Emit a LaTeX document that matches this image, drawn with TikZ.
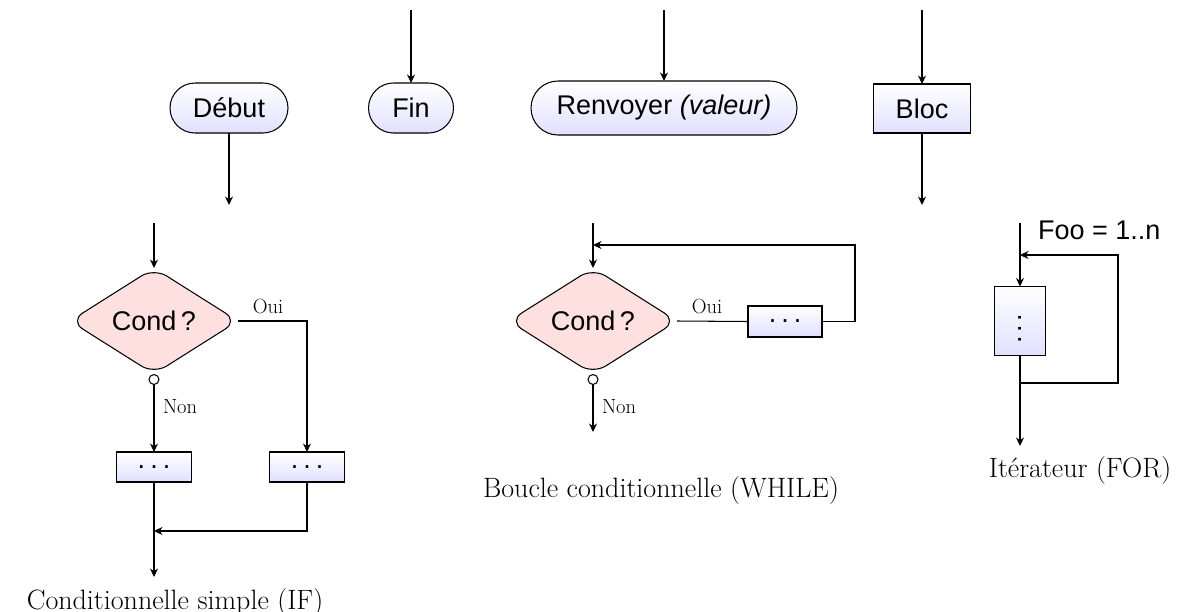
\documentclass[tikz,border=0pt]{standalone}
\usepackage{fontspec}
\usepackage{graphicx}
\setsansfont{Liberation Sans}
\usetikzlibrary{shapes.geometric,shapes.misc,arrows.meta}
\begin{document}
\begin{tikzpicture}[x=1pt,y=-1pt,
  every node/.style={inner sep=0pt,outer sep=0pt},
  nodefont/.style={font=\sffamily\fontsize{27}{32}\selectfont},
  term/.style={rounded rectangle,draw=black,line width=1.05pt,top color=white,bottom color=blue!12,nodefont,minimum height=50pt},
  blk/.style={rectangle,draw=black,line width=1.05pt,top color=white,bottom color=blue!12,nodefont},
  cond/.style={diamond,draw=black,line width=1.05pt,fill=red!12,rounded corners=15pt,minimum width=168pt,minimum height=106pt,nodefont},
  ln/.style={line width=1.05pt},
  arr/.style={ln,-{Stealth[length=8.5pt,width=8pt,inset=2.8pt]}},
  circarr/.style={ln,{Circle[open,length=11pt,width=11pt]}-{Stealth[length=8.5pt,width=8pt,inset=2.8pt]}},
  lbl/.style={font=\fontsize{20.5}{24}\selectfont},
  captxt/.style={font=\fontsize{28}{34}\selectfont},
]
\useasboundingbox (0,0) rectangle (1186,611);

% --- top row ---
\node[term,minimum width=118pt] (debut) at (229,108) {Début};
\node[term,minimum width=85pt] (fin) at (411,108) {Fin};
\node[term,minimum width=266pt,minimum height=54pt] (ret) at (664,108) {Renvoyer \textit{(valeur)}};
\node[blk,minimum width=97pt,minimum height=49pt] (bloc) at (922,108.5) {Bloc};

\coordinate (tfin) at (411,10);
\coordinate (tret) at (664,10);
\coordinate (tbloc) at (922,10);
\coordinate (edebut) at (229,205);
\coordinate (ebloc) at (922,205);

\draw[arr] (tfin) -- (fin.north);
\draw[arr] (tret) -- (ret.north);
\draw[arr] (tbloc) -- (bloc.north);
\draw[arr] (debut.south) -- (edebut);
\draw[arr] (bloc.south) -- (ebloc);

% --- IF ---
\coordinate (i0) at (154,223);
\node[cond] (c1) at (154,321) {Cond\,?};
\node[blk,minimum width=75pt,minimum height=30pt] (b1) at (154,467) {.\hspace{5pt}.\hspace{5pt}.};
\node[blk,minimum width=75pt,minimum height=30pt] (b2) at (307,467) {.\hspace{5pt}.\hspace{5pt}.};
\coordinate (i1) at (154,577);
\coordinate (j1) at (154,531);
\draw[arr] (i0) -- (c1.north);
\draw[arr] (c1.east) -| (b2.north);
\draw[circarr] (c1.south) -- (b1.north);
\draw[arr] (b1.south) -- (i1);
\draw[arr] (b2.south) |- (j1);
\node[lbl,anchor=base] (oui1) at (268,313) {Oui};
\node[lbl,anchor=base west] (non1) at (163,413) {Non};
\node[captxt,anchor=base] (capif) at (175,609) {Conditionnelle simple (IF)};

% --- WHILE ---
\coordinate (w0) at (593,223);
\node[cond] (c2) at (593,321) {Cond\,?};
\node[blk,minimum width=74pt,minimum height=31pt] (b3) at (785,321.5) {.\hspace{5pt}.\hspace{5pt}.};
\coordinate (r2) at (855,245);
\coordinate (j2) at (593,245);
\coordinate (w1) at (593,432);
\draw[arr] (w0) -- (c2.north);
\draw[ln] (c2.east) -- (b3.west);
\draw[arr] (b3.east) -| (r2) -- (j2);
\draw[circarr] (c2.south) -- (w1);
\node[lbl,anchor=base] (oui2) at (707,313) {Oui};
\node[lbl,anchor=base west] (non2) at (602,413) {Non};
\node[captxt,anchor=base] (capwhile) at (661,497) {Boucle conditionnelle (WHILE)};

% --- FOR ---
\coordinate (f0) at (1020,223);
\node[blk,minimum width=51pt,minimum height=69pt] (b4) at (1020,321) {\rotatebox{90}{.\hspace{3.5pt}.\hspace{3.5pt}.\hspace{16pt}}};
\coordinate (fj) at (1020,383);
\coordinate (fr) at (1118,255);
\coordinate (fk) at (1020,255);
\coordinate (f1) at (1020,446);
\draw[arr] (f0) -- (b4.north);
\draw[ln] (b4.south) -- (fj);
\draw[arr] (fj) -| (fr) -- (fk);
\draw[arr] (fj) -- (f1);
\node[nodefont,anchor=base west] (foo) at (1038,239) {Foo = 1..n};
\node[captxt,anchor=base] (capfor) at (1080,477) {Itérateur (FOR)};
\end{tikzpicture}
\end{document}
